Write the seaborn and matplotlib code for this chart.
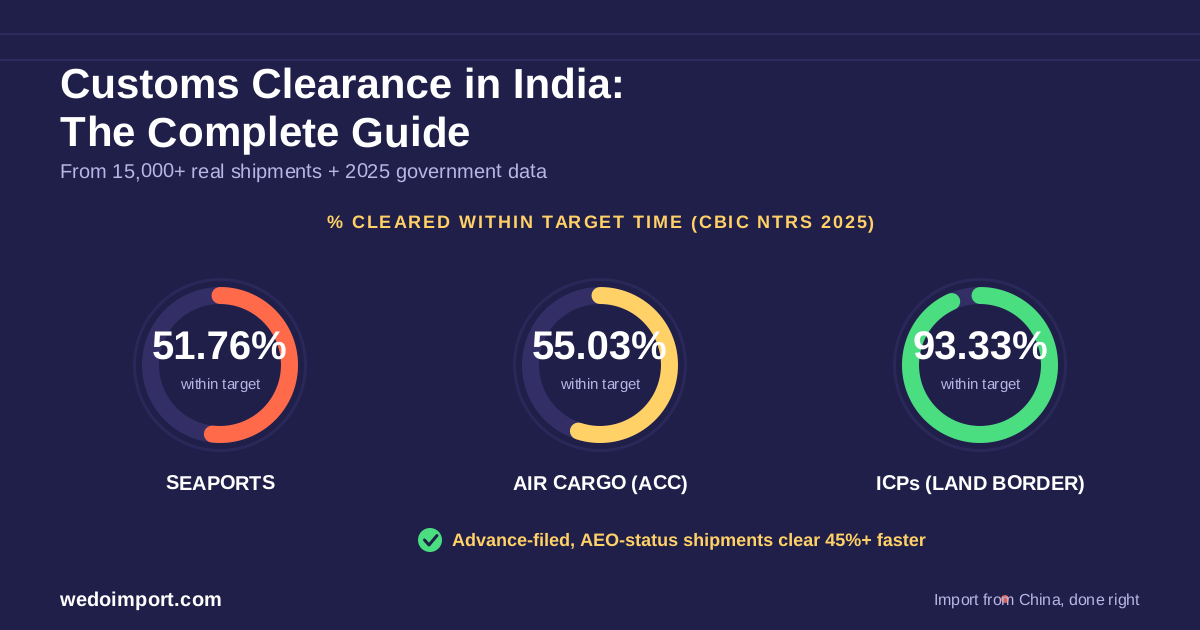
import numpy as np
import pandas as pd
import matplotlib
matplotlib.use("Agg")
import matplotlib.pyplot as plt
from matplotlib.text import Text
import seaborn as sns

# --- data ---
gauge_labels = ["SEAPORTS", "AIR CARGO (ACC)", "ICPs (LAND BORDER)"]
gauge_values = [51.76, 55.03, 93.33]
gauge_colors = ["#ff6b4a", "#ffd166", "#4ade80"]
gauge_centers = [220, 600, 980]

title_lines = ["Customs Clearance in India:", "The Complete Guide"]
subtitle = "From 15,000+ real shipments + 2025 government data"
heading = "% CLEARED WITHIN TARGET TIME (CBIC NTRS 2025)"
sub_value = "within target"
callout = "Advance-filed, AEO-status shipments clear 45%+ faster"
footer_left = "wedoimport.com"
footer_right = "Import from China, done right"

BG = "#201f4a"
TRACK = "#332f66"
HALO = "#2a2858"
LINES = "#2d2a5c"
MUTED = "#b9b6e6"
YELLOW = "#ffd166"
GREEN = "#4ade80"
ORANGE = "#ff6b4a"

sns.set_theme(style="white")
plt.rcParams["font.family"] = ["Liberation Sans", "DejaVu Sans"]
plt.rcParams["text.hinting"] = "no_hinting"
plt.rcParams["text.hinting_factor"] = 1
W, H = 1200, 630
CY = 365
px = 0.72  # css px -> pt at dpi 100
ALIGN = {0: "left", 0.5: "center", 1: "right"}


class TrackedText(Text):
    """Text with letter spacing: keeps the whole string, draws it glyph by glyph."""

    def __init__(self, x, y, text, spacing=0, anchor=0.5, **kw):
        super().__init__(x, y, text, ha=ALIGN[anchor], **kw)
        self.spacing = spacing
        self.anchor = anchor  # 0 left, 0.5 centre, 1 right

    def draw(self, renderer):
        s = self.get_text()
        fp = self.get_fontproperties()
        widths = [renderer.get_text_width_height_descent(s[:i], fp, False)[0] for i in range(len(s) + 1)]
        total = widths[-1] + self.spacing * (len(s) - 1)
        x0, y0 = self.get_transform().transform((self.get_position()))
        for i, ch in enumerate(s):
            if ch == " ":
                continue
            glyph = Text(x0 - total * self.anchor + widths[i] + self.spacing * i, y0, ch, color=self.get_color(),
                         fontproperties=fp, transform=None, figure=self.get_figure())
            glyph.draw(renderer)


def gauge_axes(fig, cx):
    ax = fig.add_axes([(cx - 100) / W, 1 - (CY + 100) / H, 200 / W, 200 / H], projection="polar")
    ax.set_theta_zero_location("N")
    ax.set_theta_direction(-1)
    ax.set_rlim(0, 100)
    ax.set_facecolor("none")
    ax.axis("off")
    return ax


def arc(ax, pct, radius, color, width, cap):
    theta = np.linspace(0, 2 * np.pi * pct / 100, 240)
    df = pd.DataFrame({"theta": theta, "r": np.full_like(theta, radius)})
    sns.lineplot(data=df, x="theta", y="r", ax=ax, color=color, linewidth=width * px,
                 sort=False, estimator=None, legend=False, solid_capstyle=cap)
    ax.set_rlim(0, 100)
    ax.axis("off")


fig = plt.figure(figsize=(12, 6.3), dpi=100, facecolor=BG)

for cx, value, color in zip(gauge_centers, gauge_values, gauge_colors):
    ax = gauge_axes(fig, cx)
    arc(ax, 100, 85.5, HALO, 3, "butt")
    arc(ax, 100, 69.5, TRACK, 17, "butt")
    arc(ax, value, 69.5, color, 17, "round")

# overlay in pixel coordinates
ov = fig.add_axes([0, 0, 1, 1], zorder=5)
ov.set_xlim(0, W)
ov.set_ylim(H, 0)
ov.set_facecolor("none")
ov.axis("off")


def tracked(x, y, s, spacing, anchor, color, size, weight="normal"):
    ov.add_artist(TrackedText(x, y, s, spacing=spacing, anchor=anchor, color=color, fontsize=size * px,
                              fontweight=weight, transform=ov.transData))


for y in [34, 60]:
    ov.axhline(y, color=LINES, lw=2.2 * px)

ov.text(60, 98, title_lines[0], color="white", fontsize=42 * px, fontweight="bold")
tracked(60, 146.5, title_lines[1], 0.1, 0, "white", 42, "bold")
tracked(59.4, 178, subtitle, 0.06, 0, MUTED, 20)
tracked(600.5, 228, heading, 1.93, 0.5, YELLOW, 18, "bold")

for cx, value, label in zip(gauge_centers, gauge_values, gauge_labels):
    ov.text(cx, 360, f"{value:.2f}%", color="white", fontsize=40 * px, fontweight="bold", ha="center")
    tracked(cx, 389, sub_value, -0.15, 0.5, MUTED, 15)
    tracked(cx, 490, label, -0.12, 0.5, "white", 20, "bold")

ov.add_patch(plt.Circle((430, 540), 12, color=GREEN, lw=0))
ov.plot([424.5, 429, 437], [540, 545, 535.5], color=BG, lw=3 * px, solid_capstyle="round")
ov.text(452, 545.4, callout, color=YELLOW, fontsize=18 * px, fontweight="bold")

tracked(59.4, 606, footer_left, 0.12, 0, "white", 20, "bold")
tracked(1139, 605, footer_right, -0.1, 1, MUTED, 16)
ov.add_patch(plt.Circle((1005, 599), 4, color=ORANGE, lw=0, alpha=0.85))

fig.savefig("out.png", dpi=100, facecolor=BG)
